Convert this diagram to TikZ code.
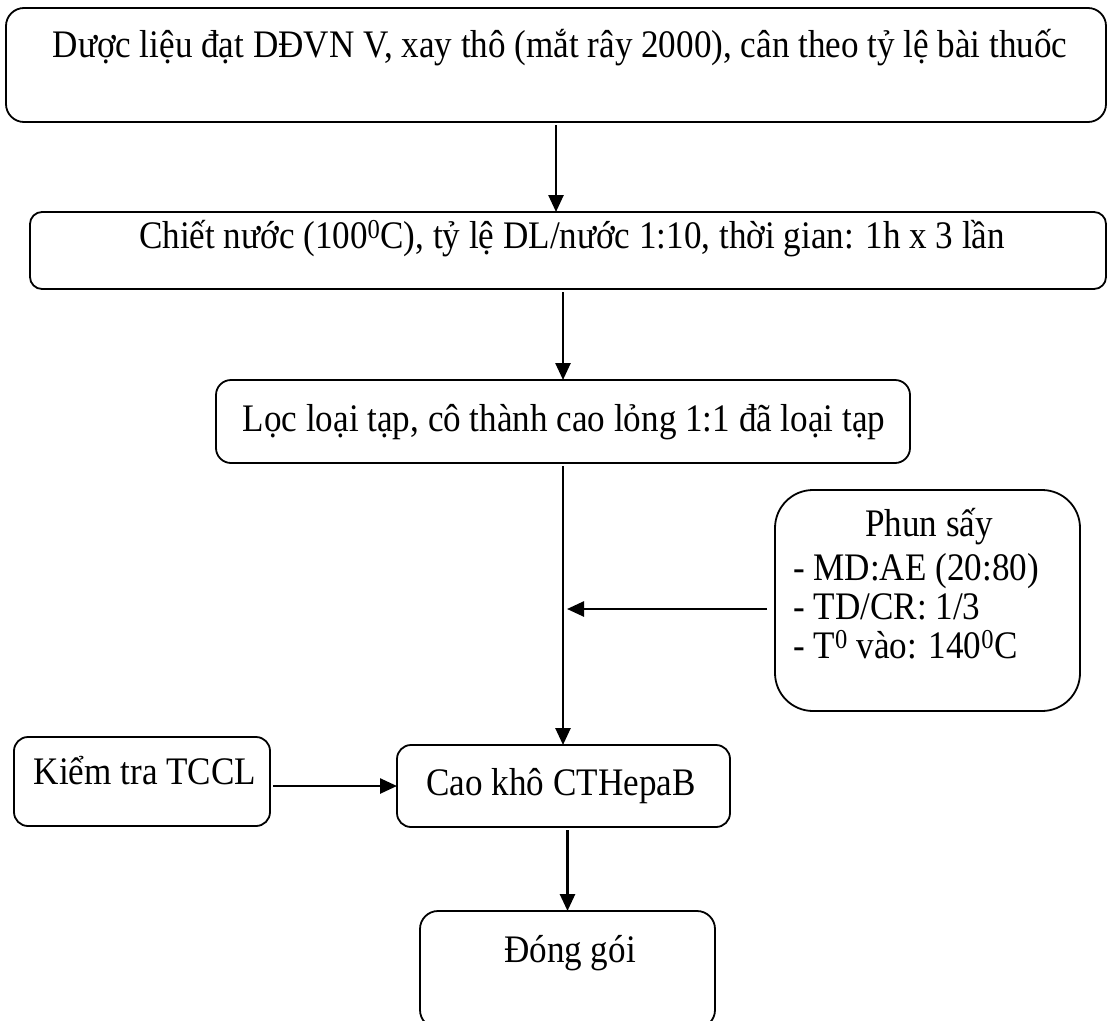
\documentclass[tikz,border=0pt]{standalone}
\usepackage{fontspec}
\usepackage{graphicx}
\setmainfont{Liberation Serif}
\usetikzlibrary{arrows.meta}
\newcommand\cx[1]{\scalebox{0.9}[1]{#1}}
\begin{document}
\begin{tikzpicture}[x=1pt,y=-1pt,
  box/.style={draw, line width=1.8pt, rounded corners=#1, inner sep=0pt, outer sep=0pt},
  box/.default=14pt,
  txt/.style={font=\fontsize{39}{44}\selectfont, inner sep=0pt, anchor=base},
  arr/.style={line width=2.6pt, -{Triangle[length=17pt,width=15pt]}, shorten <=3pt}]
\useasboundingbox (0,0) rectangle (1108,1020);
\clip (0,0) rectangle (1108,1020);
% boxes
\node[box=18pt, minimum width=1100pt, minimum height=114pt] (b1) at (556,65) {};
\node[box=12pt, minimum width=1076pt, minimum height=77pt] (b2) at (568,250.5) {};
\node[box=15pt, minimum width=694pt, minimum height=83pt] (b3) at (563,421.5) {};
\node[box=38pt, minimum width=305pt, minimum height=221pt] (b4) at (927.5,600.5) {};
\node[box=14pt, minimum width=256pt, minimum height=89pt] (b5) at (142,781.5) {};
\node[box=14pt, minimum width=333pt, minimum height=82pt] (b6) at (563.5,786) {};
\node[box=18pt, minimum width=295pt, minimum height=117pt] (b7) at (567.5,969.5) {};
% texts
\node[txt] (t1) at (560,57) {\cx{Dược liệu đạt DĐVN V, xay thô (mắt rây 2000), cân theo tỷ lệ bài thuốc}};
\node[txt] (t2) at (572,248) {\cx{Chiết nước (100\textsuperscript{0}C), tỷ lệ DL/nước 1:10, thời gian: 1h x 3 lần}};
\node[txt] (t3) at (564,431) {\cx{Lọc loại tạp, cô thành cao lỏng 1:1 đã loại tạp}};
\node[txt] (t4) at (929,536) {\cx{Phun sấy}};
\node[txt, anchor=base west] (t4a) at (793,580) {\cx{- MD:AE (20:80)}};
\node[txt, anchor=base west] (t4b) at (793,619) {\cx{- TD/CR: 1/3}};
\node[txt, anchor=base west] (t4c) at (793,658) {\cx{- T\textsuperscript{0} vào: 140\textsuperscript{0}C}};
\node[txt] (t5) at (145,784) {\cx{Kiểm tra TCCL}};
\node[txt] (t6) at (561,795) {\cx{Cao khô CTHepaB}};
\node[txt] (t7) at (570,962) {\cx{Đóng gói}};
% connectors
\draw[arr] (b1.south) -- (b2.north -| b1.south);
\draw[arr] (b2.south -| b3.north) -- (b3.north);
\draw[arr] (b3.south) -- (b6.north -| b3.south);
\coordinate (j) at ([yshift=-8.5pt]b4.west -| b3.south);
\draw[arr, shorten <=8pt, shorten >=4pt] ([yshift=-8.5pt]b4.west) -- (j);
\draw[arr] (b5.east |- b6.west) -- (b6.west);
\draw[arr] (b6.south -| b7.north) -- (b7.north);
\end{tikzpicture}
\end{document}
